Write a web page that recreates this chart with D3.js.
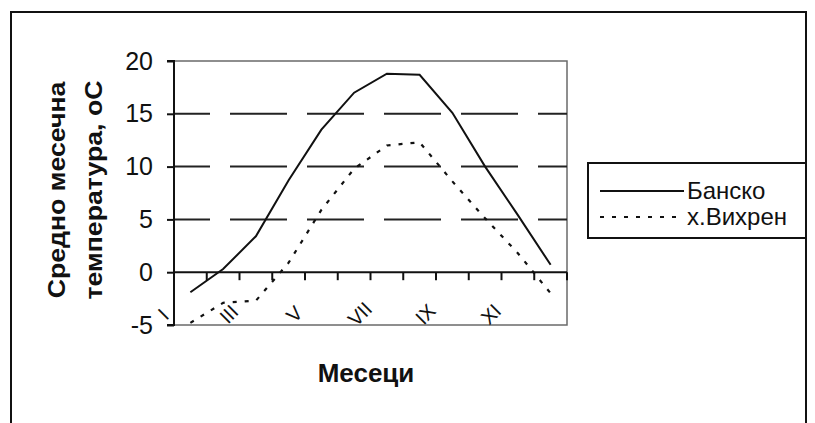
<!DOCTYPE html>
<html>
<head>
<meta charset="utf-8">
<script src="https://cdn.jsdelivr.net/npm/d3@7"></script>
<style>
  html, body { margin: 0; padding: 0; background: #fff; }
  svg { display: block; }
  text { font-family: "Liberation Sans", Arial, sans-serif; fill: #111; }
</style>
</head>
<body>
<svg id="chart" width="815" height="423"></svg>
<script>
// Monthly mean temperatures, Bansko and Vihren hut
const months = ["I", "II", "III", "IV", "V", "VI", "VII", "VIII", "IX", "X", "XI", "XII"];
const monthLabels = ["I", "III", "V", "VII", "IX", "XI"];
const bansko = [-1.9, 0.3, 3.4, 8.7, 13.5, 17.0, 18.8, 18.7, 15.1, 10.0, 5.4, 0.7];
const vihren = [-4.8, -2.9, -2.7, 0.9, 5.9, 9.8, 12.0, 12.3, 8.6, 5.1, 1.8, -2.0];
const yTicks = [-5, 0, 5, 10, 15, 20];
const gridValues = [5, 10, 15];
const seriesNames = ["Банско", "х.Вихрен"];
const yTitleLines = ["Средно месечна", "температура, оС"];
const xTitle = "Месеци";

const svg = d3.select("#chart");

const plot = { left: 174, right: 567, top: 61, bottom: 325 };

const x = d3.scaleBand().domain(months).range([plot.left, plot.right]).paddingInner(0).paddingOuter(0);
const y = d3.scaleLinear().domain([-5, 20]).range([plot.bottom, plot.top]);
const cx = m => x(m) + x.bandwidth() / 2;

// outer chart frame
svg.append("rect")
  .attr("x", 11).attr("y", 12).attr("width", 795).attr("height", 430)
  .attr("fill", "none").attr("stroke", "#111").attr("stroke-width", 2);

// plot area border
svg.append("rect")
  .attr("x", plot.left).attr("y", plot.top)
  .attr("width", plot.right - plot.left).attr("height", plot.bottom - plot.top)
  .attr("fill", "none").attr("stroke", "#6a6a6a").attr("stroke-width", 1.5);

// dashed horizontal gridlines
svg.append("g").selectAll("line").data(gridValues).join("line")
  .attr("x1", plot.left).attr("x2", plot.right)
  .attr("y1", d => y(d)).attr("y2", d => y(d))
  .attr("stroke", "#222").attr("stroke-width", 2)
  .attr("stroke-dasharray", "57,20").attr("stroke-dashoffset", 21);

// y axis
const yAxis = d3.axisLeft(y).tickValues(yTicks).tickSize(7).tickPadding(14).tickFormat(d => String(d));
const gy = svg.append("g").attr("transform", `translate(${plot.left},0)`).call(yAxis);
gy.select(".domain").attr("stroke", "#111").attr("stroke-width", 2).attr("d", `M-7,${plot.top}H0V${plot.bottom}H-7`);
gy.selectAll(".tick line").attr("stroke", "#111").attr("stroke-width", 2);
gy.selectAll(".tick text").attr("font-size", 25).attr("fill", "#222")
  .style("font-family", "'Liberation Sans', Arial, sans-serif");

// x axis at zero with ticks between categories
const gx = svg.append("g");
gx.append("line")
  .attr("x1", plot.left).attr("x2", plot.right)
  .attr("y1", y(0)).attr("y2", y(0))
  .attr("stroke", "#111").attr("stroke-width", 2);
gx.selectAll("line.tk").data(months).join("line").attr("class", "tk")
  .attr("x1", d => x(d) + x.bandwidth()).attr("x2", d => x(d) + x.bandwidth())
  .attr("y1", y(0)).attr("y2", y(0) + 8)
  .attr("stroke", "#111").attr("stroke-width", 2);

// rotated month labels
gx.selectAll("text").data(monthLabels).join("text")
  .attr("transform", d => `translate(${cx(d) - 27},${plot.bottom - 11}) rotate(-45)`)
  .attr("text-anchor", "middle").attr("dy", "0.35em")
  .attr("font-size", 20).attr("fill", "#222")
  .text(d => d);

// series lines
const line = d3.line().x((d, i) => cx(months[i])).y(d => y(d));
svg.append("path").datum(bansko).attr("d", line)
  .attr("fill", "none").attr("stroke", "#111").attr("stroke-width", 2);
svg.append("path").datum(vihren).attr("d", line)
  .attr("fill", "none").attr("stroke", "#111").attr("stroke-width", 2.2)
  .attr("stroke-dasharray", "4,8");

// axis titles (y title stretched along its reading direction)
const yt = svg.append("g");
yt.selectAll("text").data(yTitleLines).join("text")
  .attr("transform", (d, i) => `translate(${i === 0 ? 65 : 102},190) rotate(-90) scale(1.16,1)`)
  .attr("text-anchor", "middle")
  .attr("font-size", 23).attr("font-weight", "bold").attr("fill", "#333")
  .text(d => d);

svg.append("text")
  .attr("x", 366).attr("y", 382)
  .attr("text-anchor", "middle")
  .attr("font-size", 26).attr("font-weight", "bold").attr("fill", "#333")
  .text(xTitle);

// legend
const lg = svg.append("g");
lg.append("rect")
  .attr("x", 588).attr("y", 163).attr("width", 218).attr("height", 75)
  .attr("fill", "#fff").attr("stroke", "#111").attr("stroke-width", 2);
const rows = [
  { name: seriesNames[0], dash: null, yy: 191 },
  { name: seriesNames[1], dash: "4,8", yy: 217 }
];
rows.forEach(r => {
  lg.append("line")
    .attr("x1", 600).attr("x2", 684).attr("y1", r.yy).attr("y2", r.yy)
    .attr("stroke", "#111").attr("stroke-width", 2)
    .attr("stroke-dasharray", r.dash);
  lg.append("text")
    .attr("x", 687).attr("y", r.yy).attr("dy", "0.35em")
    .attr("font-size", 24).attr("fill", "#222")
    .text(r.name);
});
</script>
</body>
</html>
